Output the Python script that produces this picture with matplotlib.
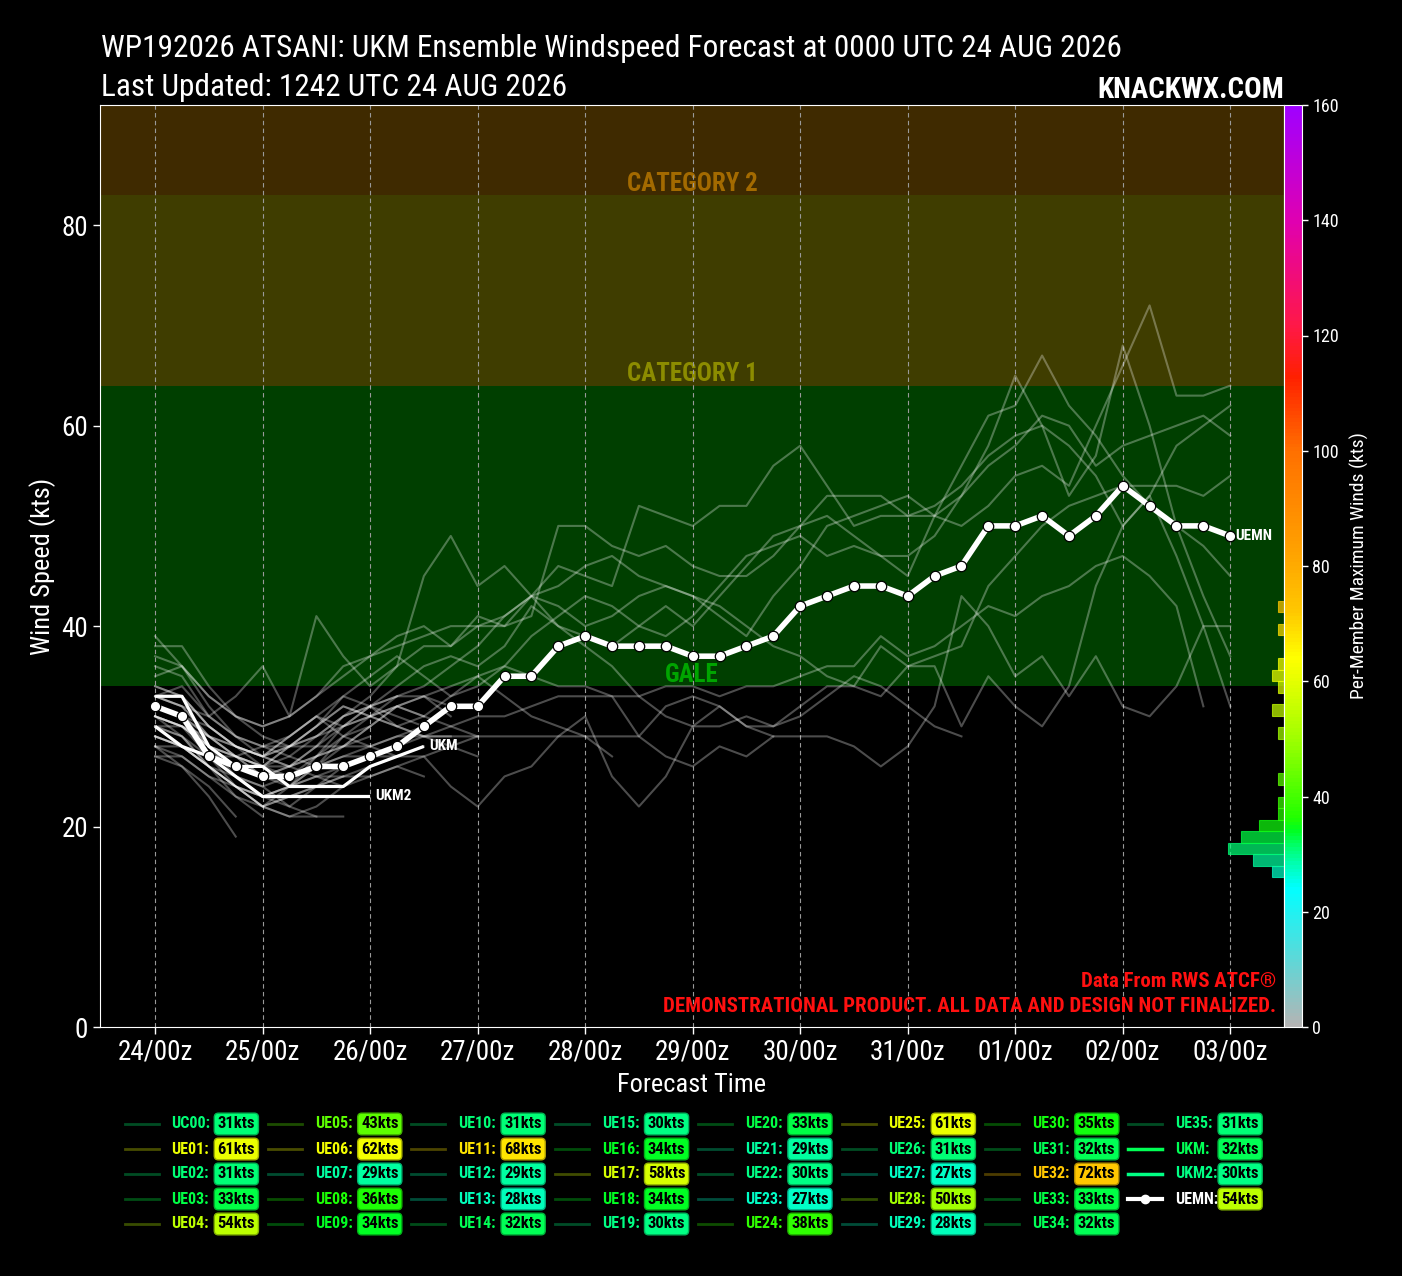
import numpy as np
import matplotlib
matplotlib.use('Agg')
import matplotlib.pyplot as plt
from matplotlib import font_manager
from matplotlib.colors import LinearSegmentedColormap, Normalize, to_rgb
from matplotlib.lines import Line2D
import matplotlib.colorbar as mcolorbar
import matplotlib.transforms as mtransforms

W, H = 1402, 1276

available = {f.name for f in font_manager.fontManager.ttflist}
FONT = next((f for f in ['Liberation Sans Narrow', 'Roboto Condensed', 'DejaVu Sans Condensed', 'Liberation Sans']
             if f in available), 'DejaVu Sans')
plt.rcParams['font.family'] = [FONT, 'DejaVu Sans']

# forecast hours, 6-hourly from 0000 UTC 24 AUG
hours = np.arange(0, 241, 6)
day_ticks = np.arange(0, 241, 24)
day_labels = ['24/00z', '25/00z', '26/00z', '27/00z', '28/00z', '29/00z',
              '30/00z', '31/00z', '01/00z', '02/00z', '03/00z']

# ensemble members (kts), each runs from hour 0 until its last value
uc00 = [31, 30, 28, 26, 25, 26, 27, 28, 29]
ue01 = [37, 36, 33, 31, 30, 31, 33, 36, 37, 38, 39, 40, 40, 40, 41, 50, 50, 48, 47, 48, 46,
        45, 45, 47, 50, 53, 53, 53, 51, 52, 54, 57, 59, 60, 58, 55, 50, 53, 58, 60, 62]
ue02 = [31, 29, 26, 24, 22, 23, 24, 26, 27, 28]
ue03 = [33, 33, 30, 28, 27, 28, 29, 31, 32, 33, 33, 32]
ue04 = [33, 32, 29, 27, 25, 26, 27, 29, 30, 32, 33, 34, 35, 36, 35, 34, 34, 33, 33, 34, 34,
        33, 34, 34, 35, 36, 36, 39, 37, 38, 40, 42, 41, 43, 44, 46, 47, 45, 42, 32]
ue05 = [35, 36, 33, 31, 30, 31, 33, 35, 37, 39, 40, 38, 41, 40, 43, 40, 38, 36, 33, 31, 30,
        32, 30, 29]
ue06 = [32, 31, 28, 27, 26, 28, 30, 33, 35, 37, 35, 33, 34, 36, 39, 41, 43, 42, 40, 39, 41,
        44, 47, 48, 49, 47, 48, 47, 45, 51, 56, 61, 62, 67, 62, 59, 55, 52, 50, 48, 45]
ue07 = [29, 28, 26, 24, 22, 21, 22, 24, 26, 27, 28]
ue08 = [29, 28, 26, 24, 23, 24, 25, 25, 25, 26, 27, 24, 22, 25, 26, 29, 31, 25, 22, 25, 30,
        30, 31, 30, 31, 33, 35, 34, 32, 30, 29]
ue09 = [38, 38, 34, 31, 29, 28, 30, 32, 31, 30, 29, 28, 27]
ue10 = [31, 30, 27, 25, 24, 25, 27, 28, 30]
ue11 = [36, 35, 31, 29, 28, 29, 31, 30, 32, 34, 36, 37, 36, 38, 42, 40, 39, 38, 40, 42, 40,
        43, 46, 49, 50, 51, 49, 47, 47, 49, 53, 58, 65, 60, 53, 57, 68, 60, 50, 43, 37]
ue12 = [29, 28, 26, 23, 21]
ue13 = [28, 26, 23, 19]
ue14 = [32, 31, 28, 25, 24, 22, 21, 21]
ue15 = [30, 29, 27, 24, 22, 21, 21]
ue16 = [39, 36, 32, 29, 27, 26, 25, 24, 25, 26, 25]
ue17 = [31, 30, 28, 27, 26, 28, 30, 32, 31, 33, 34, 36, 38, 41, 43, 42, 40, 41, 43, 44, 43,
        42, 40, 38, 37, 35, 34, 38, 36, 36, 30, 35, 32, 30, 34, 44, 50, 53, 47, 40, 32]
ue18 = [34, 33, 30, 28, 27, 29, 31, 29, 28, 27, 27, 28, 29]
ue19 = [30, 29, 26, 24, 23, 24, 25, 26, 27, 27]
ue20 = [33, 32, 29, 27, 26, 27, 29, 31, 32, 33]
ue21 = [29, 28, 26, 24, 23, 22, 24, 25, 26]
ue22 = [30, 28, 26, 25, 23, 24, 26, 27, 28, 29, 30]
ue23 = [27, 26, 24, 21]
ue24 = [28, 28, 27, 27, 28, 28, 28, 28, 28, 29, 29, 29, 29, 29, 29, 29, 29, 29, 29, 27, 26,
        28, 27, 29, 29, 29, 28, 26, 28, 32, 43, 40, 35, 37, 33, 37, 32, 31, 34, 40, 40]
ue25 = [33, 32, 31, 33, 36, 31, 41, 37, 34, 36, 45, 49, 44, 46, 43, 46, 45, 44, 52, 51, 50,
        52, 52, 56, 58, 54, 50, 51, 51, 51, 53, 56, 58, 61, 60, 56, 58, 59, 60, 61, 59]
ue26 = [31, 30, 28, 27, 26, 26, 28, 30, 31, 30, 29, 29]
ue27 = [27, 27, 25, 24, 22, 23, 24, 25]
ue28 = [30, 30, 28, 26, 25, 25, 26, 27, 27, 28, 29, 30, 31, 31, 32, 33, 33, 33, 29, 32, 33,
        32, 30, 30, 32, 34, 34, 33, 36, 37, 38, 44, 47, 50, 52, 53, 54, 54, 54, 53, 55]
ue29 = [28, 27, 25, 23, 22, 24, 26]
ue30 = [32, 31, 29, 28, 27, 29, 31, 33, 32, 30, 31, 33, 35, 33, 31, 30, 29, 27]
ue31 = [32, 31, 29, 27, 25, 24, 27, 30, 32, 31, 30]
ue32 = [34, 33, 30, 28, 27, 26, 28, 31, 33, 36, 38, 38, 40, 41, 43, 44, 46, 47, 45, 44, 43,
        41, 39, 43, 46, 50, 51, 52, 53, 51, 50, 52, 55, 56, 54, 60, 66, 72, 63, 63, 64]
ue33 = [33, 34, 31, 29, 28, 27, 26, 28, 30, 32, 33, 31]
ue34 = [32, 31, 30, 28, 26, 25, 26, 29, 31, 32, 31]
ue35 = [31, 30, 29, 28, 27, 28, 29, 30, 31, 32, 31, 30, 29]

ukm = [33, 33, 28, 26, 26, 24, 24, 24, 26, 27, 28]
ukm2 = [30, 28, 27, 25, 23, 23, 23, 23, 23]
uemn = [32, 31, 27, 26, 25, 25, 26, 26, 27, 28, 30, 32, 32, 35, 35, 38, 39, 38, 38, 38, 37,
        37, 38, 39, 42, 43, 44, 44, 43, 45, 46, 50, 50, 51, 49, 51, 54, 52, 50, 50, 49]

members = [uc00, ue01, ue02, ue03, ue04, ue05, ue06, ue07, ue08, ue09, ue10, ue11, ue12,
           ue13, ue14, ue15, ue16, ue17, ue18, ue19, ue20, ue21, ue22, ue23, ue24, ue25,
           ue26, ue27, ue28, ue29, ue30, ue31, ue32, ue33, ue34, ue35]

# legend: per-member maximum winds
legend_names = ['UC00', 'UE01', 'UE02', 'UE03', 'UE04', 'UE05', 'UE06', 'UE07', 'UE08', 'UE09',
                'UE10', 'UE11', 'UE12', 'UE13', 'UE14', 'UE15', 'UE16', 'UE17', 'UE18', 'UE19',
                'UE20', 'UE21', 'UE22', 'UE23', 'UE24', 'UE25', 'UE26', 'UE27', 'UE28', 'UE29',
                'UE30', 'UE31', 'UE32', 'UE33', 'UE34', 'UE35', 'UKM', 'UKM2', 'UEMN']
legend_max = [31, 61, 31, 33, 54, 43, 62, 29, 36, 34,
              31, 68, 29, 28, 32, 30, 34, 58, 34, 30,
              33, 29, 30, 27, 38, 61, 31, 27, 50, 28,
              35, 32, 72, 33, 32, 31, 32, 30, 54]

# intensity bands
band_edges = [0, 34, 64, 83, 200]
band_colors = ['#000000', '#003f00', '#3f3d00', '#3f2a00']
band_names = ['GALE', 'CATEGORY 1', 'CATEGORY 2']
band_text_colors = ['#00a400', '#8c8c00', '#a36a00']

cmap = LinearSegmentedColormap.from_list('winds', [
    (0 / 160, '#b4b4b4'), (24 / 160, '#00ffff'), (28 / 160, '#00ffb4'), (31 / 160, '#00ff70'),
    (34 / 160, '#00ff20'), (36 / 160, '#20ff00'), (43 / 160, '#60ff00'), (50 / 160, '#a0ff00'),
    (58 / 160, '#d8ff00'), (64 / 160, '#ffff00'), (72 / 160, '#ffc800'), (83 / 160, '#ffa000'),
    (100 / 160, '#ff7000'), (113 / 160, '#ff2000'), (122 / 160, '#ff1848'),
    (140 / 160, '#e000b0'), (160 / 160, '#a000ff')])
norm = Normalize(0, 160)


def fx(px):
    return px / W


def fy(py):
    return 1 - py / H


fig = plt.figure(figsize=(W / 100, H / 100), dpi=100, facecolor='black')
ax = fig.add_axes([fx(100), fy(1027), fx(1284) - fx(100), fy(105) - fy(1027)])
ax.set_facecolor('black')
ax.set_xlim(-12.3, 252)
ax.set_ylim(0, 92)

for lo, hi, c in zip(band_edges[:-1], band_edges[1:], band_colors):
    ax.axhspan(lo, hi, color=c, lw=0, zorder=0)
blend = mtransforms.blended_transform_factory(ax.transAxes, ax.transData)
for lo, name, c in zip(band_edges[1:4], band_names, band_text_colors):
    ax.text(0.5, lo + 0.45, name, transform=blend, ha='center', va='baseline',
            fontsize=18, fontweight='bold', color=c, zorder=1)

for d in day_ticks:
    ax.axvline(d, color='#9a9a9a', lw=0.8, ls=(0, (4, 3)), zorder=1)

for m in members:
    ax.plot(hours[:len(m)], m, color='white', alpha=0.3, lw=1.5, zorder=3)

ax.plot(hours[:len(ukm)], ukm, color='white', lw=2.3, zorder=5, solid_capstyle='butt')
ax.plot(hours[:len(ukm2)], ukm2, color='white', lw=2.3, zorder=5, solid_capstyle='butt')
ax.plot(hours, uemn, color='white', lw=4, marker='o', ms=7.5, mfc='white', mec='black',
        mew=0.9, zorder=6)
for track, name in [(ukm, 'UKM'), (ukm2, 'UKM2'), (uemn, 'UEMN')]:
    ax.text(hours[len(track) - 1] + 1.2, track[-1], name, color='white', fontsize=11,
            fontweight='bold', va='center', ha='left', zorder=7)

ax.set_xticks(day_ticks)
ax.set_xticklabels(day_labels)
ax.set_yticks([0, 20, 40, 60, 80])
ax.tick_params(colors='white', labelsize=19.5, length=5, width=1)
for s in ax.spines.values():
    s.set_color('white')
ax.set_ylabel('Wind Speed (kts)', color='white', fontsize=19, labelpad=4)
ax.set_xlabel('Forecast Time', color='white', fontsize=19, labelpad=5)

ax.text(0.9935, 0.049, 'Data From RWS ATCF®', transform=ax.transAxes, ha='right',
        va='center', color='#ff1010', fontsize=15, fontweight='bold', zorder=8)
ax.text(0.9935, 0.022, 'DEMONSTRATIONAL PRODUCT. ALL DATA AND DESIGN NOT FINALIZED.',
        transform=ax.transAxes, ha='right', va='center', color='#ff1010', fontsize=15,
        fontweight='bold', zorder=8)

# histogram of per-member maxima, on the colorbar scale
ax_h = fig.add_axes(ax.get_position())
ax_h.patch.set_alpha(0)
ax_h.set_xlim(191, 0)
ax_h.set_ylim(0, 160)
ax_h.axis('off')
counts, edges = np.histogram(legend_max, bins=np.arange(0, 162, 2))
for c, lo in zip(counts, edges[:-1]):
    if c:
        col = cmap(norm(lo + 1))
        ax_h.barh(lo, c, height=2, align='edge', color=col, alpha=0.72,
                  edgecolor=col, lw=0.8)

# colorbar
ax_cb = fig.add_axes([fx(1284), fy(1027), fx(1302) - fx(1284), fy(105) - fy(1027)])
cb = mcolorbar.ColorbarBase(ax_cb, cmap=cmap, norm=norm, orientation='vertical',
                            ticks=np.arange(0, 161, 20))
cb.outline.set_edgecolor('white')
ax_cb.tick_params(colors='white', labelsize=13, length=4, width=1)
cb.set_label('Per-Member Maximum Winds (kts)', color='white', fontsize=14, labelpad=8)

# titles
fig.text(fx(101), fy(57), 'WP192026 ATSANI: UKM Ensemble Windspeed Forecast at 0000 UTC 24 AUG 2026',
         color='white', fontsize=22.5, va='baseline', ha='left')
fig.text(fx(101), fy(96), 'Last Updated: 1242 UTC 24 AUG 2026',
         color='white', fontsize=22.5, va='baseline', ha='left')
fig.text(fx(1284), fy(98), 'KNACKWX.COM', color='white', fontsize=21, fontweight='bold',
         va='baseline', ha='right')

# legend, 5 rows per column
row_y = [1124, 1149, 1174, 1199, 1224]
for i, (name, mx) in enumerate(zip(legend_names, legend_max)):
    col, row = divmod(i, 5)
    lx = 171.6 + 143.4 * col
    y = row_y[row]
    c = cmap(norm(mx))
    if name == 'UEMN':
        fig.add_artist(Line2D([fx(lx - 47), fx(lx - 13)], [fy(y), fy(y)], color='white', lw=3,
                              transform=fig.transFigure))
        fig.add_artist(Line2D([fx(lx - 30)], [fy(y)], color='white', marker='o', ms=6,
                              transform=fig.transFigure))
        tcol = 'white'
    elif name in ('UKM', 'UKM2'):
        fig.add_artist(Line2D([fx(lx - 47), fx(lx - 13)], [fy(y), fy(y)], color=c, lw=2.5,
                              transform=fig.transFigure))
        tcol = c
    else:
        fig.add_artist(Line2D([fx(lx - 47), fx(lx - 13)], [fy(y), fy(y)], color=c, lw=2,
                              alpha=0.3, transform=fig.transFigure))
        tcol = c
    fig.text(fx(lx), fy(y), name + ':', color=tcol, fontsize=11.5, fontweight='bold',
             va='center', ha='left')
    edge = tuple(v * 0.7 for v in to_rgb(c))
    fig.text(fx(lx + 46), fy(y), f'{mx}kts', color='black', fontsize=12, fontweight='bold',
             va='center', ha='left',
             bbox=dict(boxstyle='round,pad=0.2,rounding_size=0.25', fc=c, ec=edge, lw=1))

fig.savefig('out.png', dpi=100, facecolor='black')
